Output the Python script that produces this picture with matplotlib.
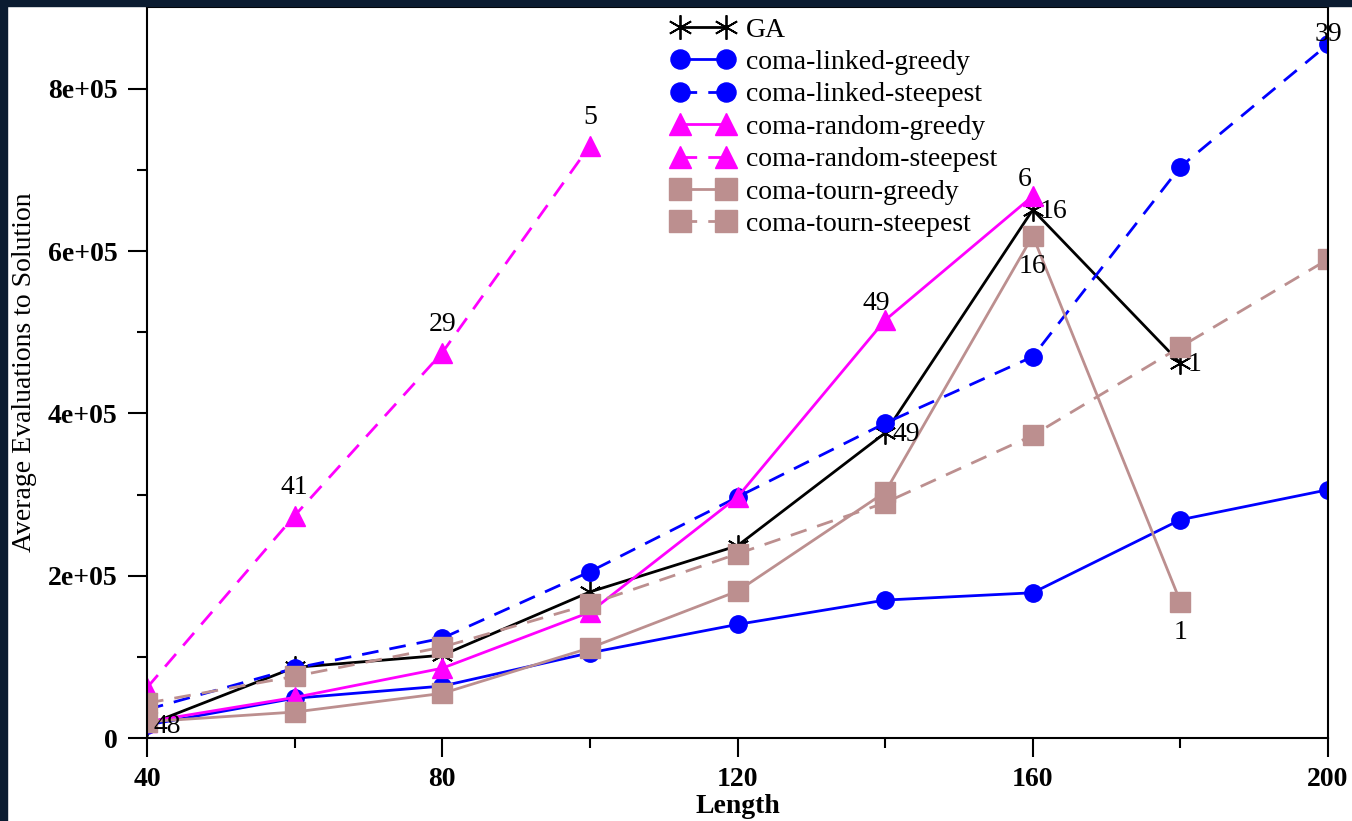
import numpy as np
import matplotlib.pyplot as plt

lengths = [40, 60, 80, 100, 120, 140, 160, 180, 200]

ga = [16000, 87000, 102000, 180000, 237000, 376000, 651000, 462000]
linked_greedy = [16000, 49000, 64000, 105000, 140000, 170000, 179000, 269000, 306000]
linked_steepest = [35000, 86000, 123000, 205000, 297000, 388000, 470000, 704000, 855000]
random_greedy = [20000, 50000, 86000, 155000, 297000, 515000, 668000]
random_steepest = [62000, 274000, 475000, 730000]
tourn_greedy = [20000, 32000, 55000, 111000, 181000, 303000, 619000, 168000]
tourn_steepest = [43000, 76000, 112000, 165000, 227000, 290000, 373000, 482000, 590000]

# success counts written next to some of the points (index -> text)
ga_counts = {0: '48', 5: '49', 6: '16', 7: '1'}
linked_steepest_counts = {8: '39'}
random_greedy_counts = {5: '49', 6: '6'}
random_steepest_counts = {1: '41', 2: '29', 3: '5'}
tourn_greedy_counts = {6: '16', 7: '1'}

rosy = '#bc8f8f'
serif = ['Liberation Serif', 'DejaVu Serif']

fig = plt.figure(figsize=(13.52, 8.21), dpi=100)
fig.patch.set_facecolor('white')
# dark screenshot border on the left and top
fig.patches.append(plt.Rectangle((0, 0), 7 / 1352, 1, transform=fig.transFigure,
                                 color='#0b1c31', zorder=0))
fig.patches.append(plt.Rectangle((0, 1 - 6 / 821), 1, 6 / 821, transform=fig.transFigure,
                                 color='#0b1c31', zorder=0))

ax = fig.add_axes([147 / 1352, 83 / 821, 1181 / 1352, 731 / 821])

dash = (0, (6, 4))
ax.plot(lengths[:len(ga)], ga, color='black', marker=(6, 2, 0), ms=16, mew=1.3,
        lw=2, label='GA')
ax.plot(lengths, linked_greedy, color='blue', marker='o', ms=12.5, lw=2,
        label='coma-linked-greedy')
ax.plot(lengths, linked_steepest, color='blue', marker='o', ms=12.5, lw=2, ls=dash,
        label='coma-linked-steepest')
ax.plot(lengths[:len(random_greedy)], random_greedy, color='magenta', marker='^', ms=15,
        lw=2, label='coma-random-greedy')
ax.plot(lengths[:len(random_steepest)], random_steepest, color='magenta', marker='^',
        ms=15, lw=2, ls=dash, label='coma-random-steepest')
ax.plot(lengths[:len(tourn_greedy)], tourn_greedy, color=rosy, marker='s', ms=14, lw=2,
        label='coma-tourn-greedy')
ax.plot(lengths, tourn_steepest, color=rosy, marker='s', ms=14, lw=2, ls=dash,
        label='coma-tourn-steepest')


def label_points(ys, counts, dx, dy, ha='center'):
    for i, txt in counts.items():
        ax.annotate(txt, (lengths[i], ys[i]), xytext=(dx, dy), textcoords='offset points',
                    ha=ha, va='center', fontsize=20, family=serif)


label_points(ga, ga_counts, 5, -1, ha='left')
label_points(linked_steepest, linked_steepest_counts, 0, 7)
label_points(random_greedy, random_greedy_counts, -6, 12)
label_points(random_steepest, random_steepest_counts, 0, 20)
label_points(tourn_greedy, tourn_greedy_counts, 0, -22)

ax.set_xlim(40, 200)
ax.set_ylim(0, 901000)
ax.set_xticks([40, 80, 120, 160, 200])
ax.set_xticks([60, 100, 140, 180], minor=True)
ax.set_yticks([0, 200000, 400000, 600000, 800000])
ax.set_yticklabels(['0', '2e+05', '4e+05', '6e+05', '8e+05'])
ax.set_yticks([100000, 300000, 500000, 700000], minor=True)
ax.tick_params(which='major', length=14, width=1.5, direction='out')
ax.tick_params(axis='x', which='major', pad=7)
ax.tick_params(axis='y', which='major', pad=7)
ax.tick_params(which='minor', length=7, width=1.5, direction='out')
for lab in ax.get_xticklabels() + ax.get_yticklabels():
    lab.set_family(serif)
    lab.set_fontweight('bold')
    lab.set_fontsize(20)
for sp in ax.spines.values():
    sp.set_linewidth(1.5)

ax.set_xlabel('Length', family=serif, fontweight='bold', fontsize=20, labelpad=1)
ax.set_ylabel('Average Evaluations to Solution', family=serif, fontsize=20, labelpad=8)

leg = ax.legend(loc='upper left', bbox_to_anchor=(0.4445, 0.986), frameon=False,
                prop={'family': serif, 'size': 20}, numpoints=2, handlelength=2.25,
                labelspacing=0.25, handletextpad=0.4, borderpad=0, borderaxespad=0,
                markerscale=1.1)

fig.savefig('out.png', dpi=100)
